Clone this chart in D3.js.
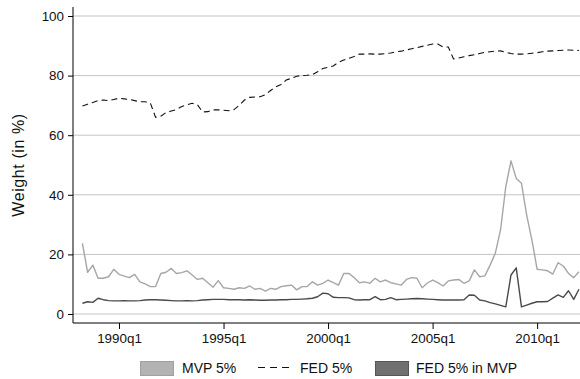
<!DOCTYPE html>
<html>
<head>
<meta charset="utf-8">
<script src="https://cdn.jsdelivr.net/npm/d3@7"></script>
<style>
  body { margin: 0; background: #fff; }
  svg { display: block; font-family: "Liberation Sans", Arial, Helvetica, sans-serif; }
</style>
</head>
<body>
<svg id="chart" width="580" height="379"></svg>
<script>
// quarterly series, first observation 1988q2
var startQuarter = "1988q2";

var fed5 = [69.8,70.4,71.0,71.6,71.8,71.6,72.0,72.4,72.2,72.0,71.6,71.2,71.2,70.8,66.0,66.4,
  67.6,68.1,68.6,69.6,70.2,70.7,70.2,67.8,67.9,68.5,68.5,68.4,68.2,68.6,70.0,71.8,
  72.7,72.8,72.9,73.6,75.0,76.2,77.0,78.5,79.1,79.8,80.0,80.1,80.3,81.3,82.4,82.8,
  83.2,84.5,85.2,85.8,86.4,87.2,87.2,87.3,87.2,87.2,87.4,87.6,88.0,88.2,88.6,89.0,
  89.4,89.8,90.2,90.6,90.6,89.6,89.6,85.6,85.9,86.3,86.7,87.0,87.4,87.8,88.0,88.2,
  88.3,87.8,87.4,87.2,87.2,87.3,87.5,87.7,88.0,88.2,88.3,88.4,88.5,88.6,88.5,88.4];

var mvp5 = [23.7,14.0,16.4,12.0,12.0,12.5,15.0,13.3,12.7,12.2,13.3,10.8,10.1,9.2,9.2,13.6,
  14.0,15.3,13.6,13.9,14.5,13.1,11.6,12.0,10.5,9.0,11.2,8.8,8.6,8.3,8.8,8.6,
  9.4,8.3,8.6,7.7,8.6,8.3,9.2,9.5,9.7,8.1,9.2,9.2,10.8,9.7,10.3,11.4,
  10.5,9.7,13.6,13.6,12.2,10.5,10.8,10.3,12.0,10.8,11.4,10.5,10.1,9.7,11.6,12.2,
  12.0,8.8,10.4,11.4,10.5,9.4,11.1,11.4,11.6,10.3,11.1,14.8,12.5,12.8,16.4,20.4,
  28.2,42.7,51.4,45.5,43.9,33.2,24.8,15.0,14.8,14.5,13.4,17.2,16.1,13.6,12.2,14.2];

var fedInMvp = [3.6,4.1,3.9,5.3,4.8,4.5,4.4,4.4,4.5,4.4,4.4,4.5,4.7,4.8,4.8,4.7,
  4.6,4.5,4.4,4.4,4.5,4.4,4.5,4.7,4.8,4.9,4.9,4.9,4.8,4.8,4.8,4.7,
  4.8,4.7,4.6,4.6,4.7,4.7,4.8,4.8,4.9,4.9,5.0,5.1,5.3,5.8,7.0,6.8,
  5.6,5.5,5.5,5.4,4.8,4.7,4.8,4.8,5.8,4.8,4.9,5.5,4.8,4.9,5.0,5.1,
  5.2,5.1,5.0,4.9,4.8,4.7,4.7,4.7,4.7,4.8,6.4,6.3,4.7,4.4,3.8,3.4,
  2.9,2.4,13.1,15.5,2.4,3.0,3.6,4.1,4.1,4.2,5.3,6.4,5.6,7.8,4.9,8.3];

var xTickLabels = ["1990q1","1995q1","2000q1","2005q1","2010q1"];
var yTicks = [0, 20, 40, 60, 80, 100];
var legendLabels = ["MVP 5%", "FED 5%", "FED 5% in MVP"];

// quarter number in the Stata way (1960q1 = 0)
function qnum(s) {
  var p = s.split("q");
  return (+p[0] - 1960) * 4 + (+p[1] - 1);
}

var svg = d3.select("#chart");
var plot = {left: 73, right: 580, top: 16, bottom: 314, axisY: 323};

var q0 = qnum(startQuarter);
var x = d3.scaleLinear().domain([q0 - 1.8, q0 + 95.2]).range([plot.left, plot.right]);
var y = d3.scaleLinear().domain([0, 100]).range([plot.bottom, plot.top]);

// grid lines
svg.append("g").selectAll("line").data(yTicks).join("line")
  .attr("x1", plot.left).attr("x2", plot.right)
  .attr("y1", d => y(d)).attr("y2", d => y(d))
  .attr("stroke", "#c4c4c4").attr("stroke-width", 1);

// axes
var yAxis = d3.axisLeft(y).tickValues(yTicks).tickSize(5).tickPadding(4);
var gy = svg.append("g").attr("transform", "translate(" + plot.left + ",0)").call(yAxis);
gy.select(".domain").attr("d", "M0,7V" + plot.axisY).attr("stroke", "#000");

var xAxis = d3.axisBottom(x).tickValues(xTickLabels.map(qnum))
  .tickFormat((d, i) => xTickLabels[i]).tickSize(6).tickPadding(4);
var gx = svg.append("g").attr("transform", "translate(0," + plot.axisY + ")").call(xAxis);
gx.select(".domain").attr("d", "M" + plot.left + ",0H" + plot.right).attr("stroke", "#000");

svg.selectAll(".tick text").attr("font-size", 13.4).attr("fill", "#111")
  .attr("font-family", "'Liberation Sans', Arial, sans-serif");
svg.selectAll(".tick line").attr("stroke", "#000");

svg.append("text")
  .attr("transform", "translate(24," + ((plot.top + plot.bottom) / 2) + ") rotate(-90)")
  .attr("text-anchor", "middle").attr("font-size", 16).attr("fill", "#111")
  .attr("letter-spacing", 0.6)
  .text("Weight (in %)");

// series
var line = d3.line().x((d, i) => x(q0 + i)).y(d => y(d));

svg.append("path").datum(mvp5).attr("d", line)
  .attr("fill", "none").attr("stroke", "#a6a6a6").attr("stroke-width", 1.4)
  .attr("stroke-linejoin", "round");

svg.append("path").datum(fedInMvp).attr("d", line)
  .attr("fill", "none").attr("stroke", "#4a4a4a").attr("stroke-width", 1.4)
  .attr("stroke-linejoin", "round");

svg.append("path").datum(fed5).attr("d", line)
  .attr("fill", "none").attr("stroke", "#111").attr("stroke-width", 1.1)
  .attr("stroke-dasharray", "6,4");

// legend
var lg = svg.append("g").attr("font-size", 14).attr("fill", "#111");
lg.append("rect").attr("x", 140.5).attr("y", 361.5).attr("width", 33).attr("height", 14)
  .attr("fill", "#b3b3b3").attr("stroke", "#a0a0a0");
lg.append("text").attr("x", 182).attr("y", 373).text(legendLabels[0]);

lg.append("line").attr("x1", 258).attr("x2", 292).attr("y1", 367.5).attr("y2", 367.5)
  .attr("stroke", "#111").attr("stroke-width", 1.1).attr("stroke-dasharray", "7,5");
lg.append("text").attr("x", 300).attr("y", 373).text(legendLabels[1]);

lg.append("rect").attr("x", 375.5).attr("y", 361.5).attr("width", 33).attr("height", 14)
  .attr("fill", "#707070").attr("stroke", "#555");
lg.append("text").attr("x", 416).attr("y", 373).text(legendLabels[2]);
</script>
</body>
</html>
